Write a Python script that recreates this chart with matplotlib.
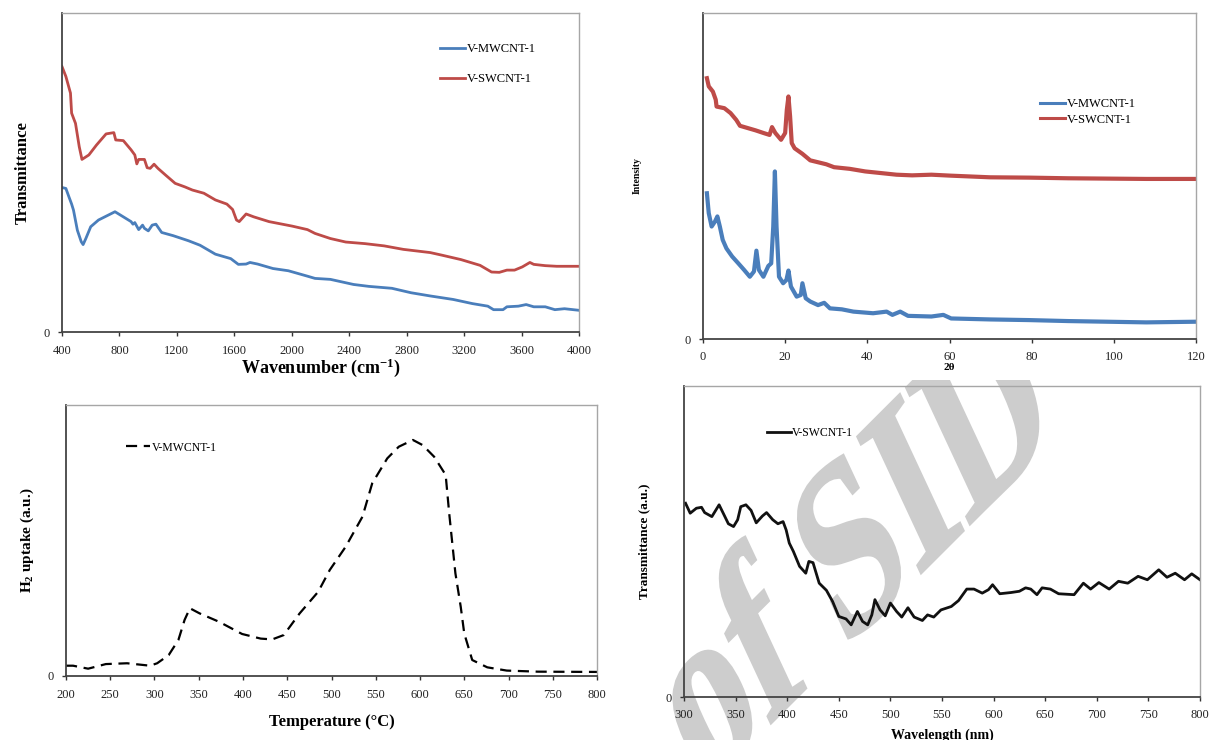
import matplotlib
matplotlib.use("Agg")
import numpy as np
import matplotlib.pyplot as plt
from matplotlib.textpath import TextPath
from matplotlib.patches import PathPatch
from matplotlib.font_manager import FontProperties
from matplotlib.transforms import Affine2D, Bbox, TransformedBbox

plt.rcParams['font.family'] = ['Liberation Serif', 'DejaVu Serif']
plt.rcParams['mathtext.fontset'] = 'custom'
plt.rcParams['mathtext.rm'] = 'Liberation Serif'
plt.rcParams['mathtext.bf'] = 'Liberation Serif:bold'
plt.rcParams['mathtext.it'] = 'Liberation Serif:italic'

# ---------------- FTIR (top-left) ----------------
ftir_sw_x = [400, 427, 459, 467, 494, 520, 539, 587, 640, 707, 761, 774, 827, 881, 907, 921, 934, 974, 993,
             1014, 1041, 1068, 1121, 1188, 1255, 1308, 1388, 1468, 1548, 1588, 1615, 1634, 1682, 1735, 1842,
             2002, 2109, 2162, 2269, 2376, 2510, 2643, 2777, 2964, 3044, 3178, 3311, 3391, 3445, 3498, 3551,
             3605, 3658, 3685, 3765, 3845, 4000]
ftir_sw_y = [0.832, 0.801, 0.749, 0.686, 0.654, 0.581, 0.541, 0.555, 0.586, 0.621, 0.625, 0.602, 0.600, 0.571,
             0.555, 0.527, 0.541, 0.541, 0.515, 0.513, 0.526, 0.513, 0.492, 0.466, 0.455, 0.445, 0.435, 0.414,
             0.401, 0.384, 0.351, 0.346, 0.370, 0.361, 0.346, 0.332, 0.321, 0.309, 0.293, 0.282, 0.277, 0.270,
             0.259, 0.249, 0.241, 0.227, 0.209, 0.188, 0.187, 0.194, 0.194, 0.204, 0.218, 0.212, 0.208, 0.206,
             0.206]
ftir_mw_x = [400, 427, 448, 467, 480, 507, 534, 547, 566, 600, 654, 707, 769, 827, 881, 894, 907, 934, 961, 974,
             1001, 1028, 1054, 1094, 1174, 1281, 1361, 1468, 1575, 1628, 1682, 1709, 1762, 1869, 1976, 2109,
             2162, 2269, 2430, 2537, 2697, 2831, 2964, 3124, 3258, 3365, 3405, 3471, 3498, 3578, 3632, 3685,
             3765, 3832, 3899, 4000]
ftir_mw_y = [0.453, 0.450, 0.424, 0.401, 0.382, 0.319, 0.283, 0.274, 0.293, 0.330, 0.351, 0.363, 0.377, 0.361,
             0.346, 0.338, 0.343, 0.321, 0.335, 0.325, 0.317, 0.335, 0.338, 0.312, 0.302, 0.286, 0.272, 0.244,
             0.230, 0.212, 0.213, 0.218, 0.213, 0.199, 0.192, 0.175, 0.168, 0.165, 0.149, 0.143, 0.137, 0.123,
             0.113, 0.102, 0.089, 0.081, 0.070, 0.070, 0.079, 0.081, 0.086, 0.079, 0.079, 0.070, 0.073, 0.068]
ftir_xticks = [400, 800, 1200, 1600, 2000, 2400, 2800, 3200, 3600, 4000]

# ---------------- XRD (top-right) ----------------
xrd_sw_x = [0.95, 1.4, 2.4, 3.1, 3.3, 5.2, 6.7, 8.1, 9.0, 10.9, 12.8, 14.7, 16.2, 16.8, 17.6, 19.0, 20.0, 20.4,
            20.8, 21.2, 21.6, 22.3, 24.2, 26.1, 30.0, 31.9, 35.7, 39.5, 43.3, 47.1, 50.9, 55.6, 60.4, 69.9, 79.4,
            88.9, 98.4, 107.9, 120]
xrd_sw_y = [0.800, 0.775, 0.759, 0.734, 0.713, 0.708, 0.693, 0.672, 0.654, 0.647, 0.640, 0.632, 0.626, 0.650,
            0.632, 0.611, 0.632, 0.703, 0.744, 0.683, 0.601, 0.585, 0.568, 0.548, 0.536, 0.527, 0.522, 0.514,
            0.509, 0.504, 0.502, 0.504, 0.501, 0.496, 0.495, 0.493, 0.492, 0.491, 0.491]
xrd_mw_x = [0.95, 1.4, 2.1, 2.9, 3.5, 4.1, 4.8, 5.7, 7.1, 8.6, 10.0, 11.4, 12.4, 13.0, 13.6, 14.7, 15.9, 16.6,
            17.1, 17.5, 17.9, 18.5, 19.5, 20.3, 20.8, 21.4, 22.8, 23.8, 24.2, 25.0, 26.1, 28.0, 29.5, 30.9, 33.8,
            36.6, 41.4, 44.7, 46.1, 48.0, 49.9, 55.6, 58.5, 60.4, 69.9, 79.4, 88.9, 98.4, 107.9, 120]
xrd_mw_y = [0.447, 0.386, 0.345, 0.360, 0.376, 0.345, 0.304, 0.278, 0.253, 0.232, 0.212, 0.191, 0.207, 0.271,
            0.212, 0.191, 0.224, 0.232, 0.345, 0.514, 0.345, 0.191, 0.171, 0.181, 0.210, 0.161, 0.130, 0.135,
            0.171, 0.125, 0.115, 0.104, 0.111, 0.094, 0.091, 0.084, 0.079, 0.084, 0.074, 0.084, 0.071, 0.069,
            0.074, 0.063, 0.060, 0.058, 0.055, 0.053, 0.051, 0.053]
xrd_xticks = [0, 20, 40, 60, 80, 100, 120]

# ---------------- TPR (bottom-left) ----------------
tpr_x = [200, 208, 225, 245, 269, 295, 303, 316, 327, 334, 340, 351, 373, 399, 420, 433, 446, 464, 485, 498,
         516, 535, 546, 563, 576, 592, 603, 616, 629, 633, 640, 646, 650, 659, 676, 698, 733, 800]
tpr_y = [0.038, 0.038, 0.027, 0.044, 0.047, 0.038, 0.047, 0.077, 0.133, 0.207, 0.250, 0.231, 0.200, 0.155,
         0.138, 0.135, 0.151, 0.231, 0.311, 0.391, 0.477, 0.588, 0.711, 0.803, 0.846, 0.871, 0.852, 0.809,
         0.742, 0.600, 0.379, 0.256, 0.157, 0.059, 0.032, 0.020, 0.016, 0.015]
tpr_xticks = [200, 250, 300, 350, 400, 450, 500, 550, 600, 650, 700, 750, 800]

# ---------------- UV-Vis (bottom-right) ----------------
uv_x = [301.5, 306, 312, 317, 320, 327, 334, 338, 343, 348, 352, 355, 360, 365, 370, 376, 380, 386, 391, 396,
        399, 402, 406, 412, 418, 421, 425, 431, 438, 444, 450, 457, 462, 468, 473, 478, 482, 485, 490, 495,
        500, 506, 511, 517, 523, 531, 536, 542, 549, 559, 566, 574, 581, 589, 595, 599, 606, 617, 625, 631,
        636, 642, 647, 655, 663, 678, 687, 694, 702, 712, 721, 730, 740, 749, 760, 768, 776, 785, 792, 800]
uv_y = [0.623, 0.591, 0.607, 0.610, 0.593, 0.580, 0.618, 0.591, 0.557, 0.548, 0.570, 0.612, 0.618, 0.600,
        0.560, 0.582, 0.593, 0.570, 0.557, 0.564, 0.537, 0.495, 0.468, 0.420, 0.398, 0.436, 0.432, 0.366,
        0.343, 0.307, 0.259, 0.251, 0.232, 0.275, 0.243, 0.232, 0.264, 0.313, 0.280, 0.261, 0.302, 0.275,
        0.257, 0.287, 0.257, 0.246, 0.264, 0.257, 0.280, 0.291, 0.310, 0.347, 0.347, 0.334, 0.345, 0.361,
        0.332, 0.336, 0.340, 0.351, 0.347, 0.329, 0.351, 0.347, 0.332, 0.329, 0.366, 0.347, 0.368, 0.347,
        0.372, 0.366, 0.388, 0.377, 0.409, 0.385, 0.398, 0.377, 0.396, 0.377]
uv_xticks = [300, 350, 400, 450, 500, 550, 600, 650, 700, 750, 800]

BLUE = '#4a7ebb'
RED = '#be4b48'

fig = plt.figure(figsize=(12.12, 7.40), dpi=100)
W, H = 1212.0, 740.0


def make_ax(l, t, r, b):
    return fig.add_axes([l / W, 1 - b / H, (r - l) / W, (b - t) / H])


def style(ax, xlim, xticks):
    ax.set_xlim(*xlim)
    ax.set_ylim(0, 1)
    ax.set_xticks(xticks)
    ax.set_yticks([0])
    ax.tick_params(direction='out', length=3, width=1, labelsize=9, pad=6, colors='#333333',
                   labelcolor='#222222')
    for s in ('left', 'bottom'):
        ax.spines[s].set_color('#444444')
        ax.spines[s].set_linewidth(1.3)
    for s in ('top', 'right'):
        ax.spines[s].set_color('#a6a6a6')
        ax.spines[s].set_linewidth(1.0)


# watermark (tilted, clipped to the lower-right picture, drawn beneath the plot content)
tp = TextPath((0, 0), 'of SID', size=1,
              prop=FontProperties(family='Liberation Serif', weight='bold'))
wm_tr = Affine2D(np.array([[131.0, -97.0, 702.0], [131.0, 208.0, -52.0], [0.0, 0.0, 1.0]]))
wm = PathPatch(tp, transform=wm_tr, facecolor='#cdcdcd', edgecolor='#cdcdcd', lw=2, zorder=-5)
fig.add_artist(wm)
wm.set_clip_box(TransformedBbox(Bbox([[598 / W, 0], [1, 360 / H]]), fig.transFigure))

# Top-left
ax1 = make_ax(62, 13, 579, 332)
ax1.plot(ftir_mw_x, ftir_mw_y, color=BLUE, lw=2.0, label='V-MWCNT-1')
ax1.plot(ftir_sw_x, ftir_sw_y, color=RED, lw=2.0, label='V-SWCNT-1')
style(ax1, (400, 4000), ftir_xticks)
ax1.set_xlabel(r'Wavenumber (cm$^{\mathbf{-1}}$)', fontsize=13, fontweight='bold', labelpad=0)
ax1.set_ylabel('Transmittance', fontsize=12, fontweight='bold', labelpad=9)
ax1.legend(loc='upper left', bbox_to_anchor=(0.731, 0.905), frameon=False, fontsize=9,
           handlelength=2.0, handletextpad=0.15, labelspacing=1.45, borderpad=0, borderaxespad=0)

# Top-right
ax2 = make_ax(703, 13, 1196, 339)
ax2.plot(xrd_mw_x, xrd_mw_y, color=BLUE, lw=3.0, label='V-MWCNT-1')
ax2.plot(xrd_sw_x, xrd_sw_y, color=RED, lw=3.0, label='V-SWCNT-1')
style(ax2, (0, 120), xrd_xticks)
ax2.set_xlabel('2θ', fontsize=8, fontweight='bold', labelpad=0)
ax2.set_ylabel('Intensity', fontsize=7, fontweight='bold', labelpad=31)
leg2 = ax2.legend(loc='upper left', bbox_to_anchor=(0.684, 0.738), frameon=False, fontsize=9,
                  handlelength=2.0, handletextpad=0.15, labelspacing=0.25, borderpad=0, borderaxespad=0)
for h in leg2.get_lines():
    h.set_linewidth(2.2)

# Bottom-left
ax3 = make_ax(66, 405, 597, 676)
ax3.plot(tpr_x, tpr_y, color='black', lw=1.6, dashes=(5, 3), label='V-MWCNT-1')
style(ax3, (200, 800), tpr_xticks)
ax3.set_xlabel('Temperature (°C)', fontsize=12, fontweight='bold', labelpad=10)
ax3.set_ylabel(r'H$_{\mathbf{2}}$ uptake (a.u.)', fontsize=11, fontweight='bold', labelpad=8)
ax3.legend(loc='upper left', bbox_to_anchor=(0.113, 0.865), frameon=False, fontsize=8.5,
           handlelength=2.0, handletextpad=0.15, borderpad=0, borderaxespad=0)

# Bottom-right
ax4 = make_ax(684, 386, 1200, 697)
ax4.set_facecolor('none')
ax4.plot(uv_x, uv_y, color='#111111', lw=2.0, label='V-SWCNT-1')
style(ax4, (300, 800), uv_xticks)
ax4.set_xlabel('Wavelength (nm)', fontsize=10, fontweight='bold', labelpad=5)
ax4.set_ylabel('Transmittance (a.u.)', fontsize=9.5, fontweight='bold', labelpad=11)
ax4.legend(loc='upper left', bbox_to_anchor=(0.161, 0.868), frameon=False, fontsize=8.5,
           handlelength=2.0, handletextpad=0.1, borderpad=0, borderaxespad=0)

fig.savefig('out.png', dpi=100, facecolor='white')
